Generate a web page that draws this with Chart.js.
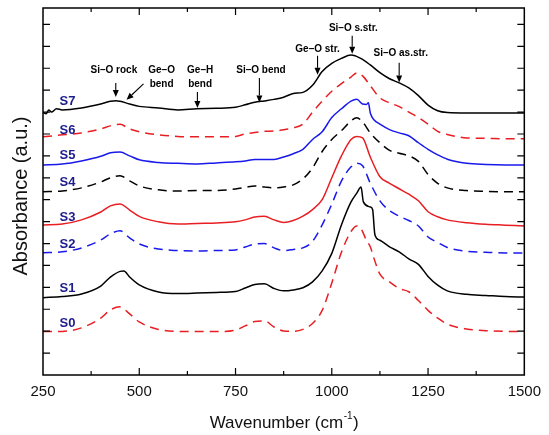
<!DOCTYPE html>
<html>
<head>
<meta charset="utf-8">
<script src="https://cdn.jsdelivr.net/npm/chart.js@4.4.1/dist/chart.umd.min.js"></script>
<style>
  html, body { margin: 0; padding: 0; background: #fff; }
  #wrap { width: 549px; height: 435px; position: relative; }
</style>
</head>
<body>
<div id="wrap"><canvas id="ftir"></canvas></div>
<script>
// Spectra, absorbance in arbitrary units (offset stacked)
const seriesNames = ['S0', 'S1', 'S2', 'S3', 'S4', 'S5', 'S6', 'S7'];

const wnGrid = [250, 300, 350, 400, 425, 450, 475, 500, 550, 600, 650, 700, 750, 775, 800, 825, 850, 875, 900, 925,
                950, 975, 1000, 1025, 1050, 1065, 1080, 1100, 1125, 1150, 1175, 1200, 1225, 1250, 1275, 1300, 1350, 1400, 1450, 1500];

const wnS0 = [250, 300, 350, 400, 425, 450, 475, 500, 550, 600, 650, 700, 750, 775, 800, 825, 850, 875, 900, 925,
              950, 975, 1000, 1025, 1050, 1065, 1075, 1090, 1100, 1110, 1125, 1150, 1175, 1200, 1225, 1250, 1275, 1300, 1350, 1400, 1450, 1500];
const absS0 = [1.98, 1.99, 2.15, 2.60, 2.97, 3.11, 2.79, 2.42, 2.08, 1.99, 1.98, 1.98, 2.05, 2.24, 2.44, 2.47, 2.19, 2.01, 1.99, 2.08,
               2.35, 2.95, 4.20, 5.60, 6.55, 6.80, 6.70, 6.15, 5.85, 5.30, 4.60, 4.25, 3.95, 3.80, 3.40, 2.95, 2.60, 2.32, 2.10, 2.02, 1.99, 1.98];

const wnS1 = [250, 300, 350, 400, 425, 450, 460, 475, 500, 550, 600, 650, 700, 750, 775, 800, 825, 850, 875, 900, 925,
              950, 975, 1000, 1025, 1050, 1065, 1076, 1082, 1100, 1106, 1112, 1125, 1150, 1175, 1200, 1225, 1250, 1275, 1300, 1350, 1400, 1450, 1500];
const absS1 = [3.53, 3.58, 3.70, 4.06, 4.47, 4.73, 4.75, 4.47, 4.11, 3.79, 3.72, 3.74, 3.77, 3.81, 3.97, 4.13, 4.16, 3.95, 3.84, 3.88, 3.98,
               4.25, 4.75, 5.55, 6.85, 7.90, 8.30, 8.58, 7.90, 7.67, 7.55, 6.40, 6.15, 5.85, 5.62, 5.30, 5.05, 4.50, 4.10, 3.84, 3.68, 3.63, 3.58, 3.56];

const absS2 = [5.58, 5.62, 5.80, 6.16, 6.44, 6.58, 6.26, 5.98, 5.75, 5.68, 5.66, 5.68, 5.71, 5.84, 5.98, 6.00, 5.80, 5.68, 5.73, 5.80,
               6.10, 6.85, 7.80, 8.85, 9.50, 9.66, 9.55, 8.75, 7.95, 7.50, 7.25, 7.05, 6.80, 6.30, 6.05, 5.82, 5.65, 5.60, 5.57, 5.57];

const absS3 = [6.85, 6.89, 7.08, 7.44, 7.72, 7.81, 7.53, 7.24, 6.99, 6.89, 6.92, 6.94, 6.99, 7.08, 7.21, 7.24, 7.08, 6.96, 7.05, 7.25,
               7.55, 8.00, 9.00, 10.00, 10.75, 10.89, 10.82, 9.95, 9.05, 8.75, 8.50, 8.25, 7.95, 7.45, 7.22, 7.08, 6.95, 6.88, 6.84, 6.80];

const absS4 = [8.36, 8.40, 8.54, 8.81, 9.00, 9.09, 8.86, 8.63, 8.45, 8.40, 8.42, 8.42, 8.49, 8.56, 8.63, 8.58, 8.54, 8.58, 8.68, 8.95,
               9.45, 10.20, 10.75, 11.15, 11.60, 11.74, 11.55, 11.05, 10.60, 10.25, 10.12, 10.00, 9.75, 9.15, 8.75, 8.54, 8.42, 8.38, 8.36, 8.36];

const wnS5 = [250, 300, 350, 400, 425, 450, 475, 500, 550, 600, 650, 700, 750, 775, 800, 825, 850, 875, 900, 925,
              950, 975, 1000, 1025, 1050, 1065, 1080, 1090, 1095, 1100, 1110, 1125, 1150, 1175, 1200, 1225, 1250, 1275, 1300, 1350, 1400, 1450, 1500];
const absS5 = [9.59, 9.63, 9.77, 9.98, 10.14, 10.18, 10.00, 9.82, 9.70, 9.66, 9.63, 9.68, 9.73, 9.77, 9.84, 9.84, 9.84, 9.95, 10.10, 10.30,
               10.75, 11.10, 11.75, 12.15, 12.50, 12.58, 12.37, 12.35, 12.42, 11.96, 11.64, 11.45, 11.20, 11.05, 10.92, 10.60, 10.30, 10.05, 9.85, 9.66, 9.61, 9.59, 9.59];

const absS6 = [10.87, 10.96, 11.05, 11.23, 11.37, 11.44, 11.23, 11.10, 10.96, 10.89, 10.87, 10.87, 10.89, 11.00, 11.07, 11.12, 11.14, 11.19, 11.28, 11.45,
               12.00, 12.50, 12.95, 13.30, 13.60, 13.79, 13.65, 13.20, 12.65, 12.42, 12.25, 12.00, 11.75, 11.45, 11.12, 10.98, 10.82, 10.80, 10.78, 10.78];

const wnS7 = [250, 258, 265, 272, 285, 300, 350, 400, 425, 440, 450, 475, 500, 550, 600, 650, 700, 750, 775, 800, 825, 850,
              875, 900, 925, 950, 975, 1000, 1025, 1050, 1075, 1100, 1125, 1150, 1175, 1200, 1225, 1250, 1275, 1300, 1350, 1400, 1450, 1500];
const absS7 = [11.99, 11.92, 12.10, 12.00, 12.15, 12.10, 12.19, 12.37, 12.49, 12.52, 12.49, 12.37, 12.26, 12.19, 12.10, 12.15, 12.17, 12.22, 12.33, 12.45, 12.51, 12.58,
               12.68, 12.85, 12.90, 13.22, 13.85, 14.22, 14.45, 14.60, 14.45, 14.15, 13.80, 13.52, 13.33, 13.10, 12.75, 12.32, 12.06, 11.98, 11.96, 11.96, 11.96, 11.96];

// x tick labels
const xTickLabels = [250, 500, 750, 1000, 1250, 1500];

// band assignments: label lines, arrow start/end in (wavenumber, absorbance)
const bandLabels = [
    { text: ['Si\u2013O rock'], at: [434, 13.93], from: [439, 13.33], to: [439, 12.69] },
    { text: ['Ge\u2013O', 'bend'], at: [558, 13.93], from: [511, 13.29], to: [467, 12.56] },
    { text: ['Ge\u2013H', 'bend'], at: [658, 13.93], from: [651, 12.92], to: [651, 12.19] },
    { text: ['Si\u2013O bend'], at: [816, 13.93], from: [812, 13.56], to: [812, 12.44] },
    { text: ['Ge\u2013O str.'], at: [963, 14.89], from: [963, 14.57], to: [963, 13.70] },
    { text: ['Si\u2013O s.str.'], at: [1056, 15.84], from: [1053, 15.48], to: [1053, 14.66] },
    { text: ['Si\u2013O as.str.'], at: [1179, 14.70], from: [1175, 14.25], to: [1175, 13.35] }
];

// where the S0..S7 tags sit
const tagX = 293;
const tagY = [2.37, 3.93, 5.94, 7.21, 8.77, 10.0, 11.14, 12.47];

const RED = 'rgb(232,30,35)';
const BLUE = 'rgb(25,25,235)';
const BLACK = '#000';
const NAVY = '#1c1c8c';
const FONT = "'Liberation Sans', Arial, Helvetica, sans-serif";

const seriesX = [wnS0, wnS1, wnGrid, wnGrid, wnGrid, wnS5, wnGrid, wnS7];
const seriesY = [absS0, absS1, absS2, absS3, absS4, absS5, absS6, absS7];
const seriesColor = [RED, BLACK, BLUE, RED, BLACK, BLUE, RED, BLACK];
const seriesDashed = [true, false, true, false, true, false, true, false];

const datasets = seriesNames.map((name, i) => ({
    label: name,
    data: seriesX[i].map((x, j) => ({ x: x, y: seriesY[i][j] })),
    borderColor: seriesColor[i],
    borderWidth: 1.5,
    borderDash: seriesDashed[i] ? [9, 6] : [],
    pointRadius: 0,
    fill: false,
    cubicInterpolationMode: 'monotone'
}));

// frame, inward ticks, tags, band labels, axis titles
const decorations = {
    id: 'decorations',
    afterDraw(chart) {
        const ctx = chart.ctx;
        const area = chart.chartArea;
        const xs = chart.scales.x;
        const ys = chart.scales.y;
        ctx.save();

        ctx.strokeStyle = '#000';
        ctx.lineWidth = 1.5;
        ctx.strokeRect(area.left, area.top, area.right - area.left, area.bottom - area.top);

        ctx.lineWidth = 1.2;
        ctx.beginPath();
        xs.ticks.forEach(t => {
            if (t.value <= xs.min || t.value >= xs.max) return;
            const px = xs.getPixelForValue(t.value);
            const len = xTickLabels.includes(t.value) ? 7 : 4;
            ctx.moveTo(px, area.bottom); ctx.lineTo(px, area.bottom - len);
            ctx.moveTo(px, area.top); ctx.lineTo(px, area.top + len);
        });
        ys.ticks.forEach(t => {
            if (t.value <= ys.min || t.value >= ys.max || !Number.isInteger(t.value)) return;
            const py = ys.getPixelForValue(t.value);
            ctx.moveTo(area.left, py); ctx.lineTo(area.left + 7, py);
            ctx.moveTo(area.right, py); ctx.lineTo(area.right - 7, py);
        });
        ctx.stroke();

        // series tags
        ctx.fillStyle = NAVY;
        ctx.font = 'bold 13px ' + FONT;
        ctx.textAlign = 'left';
        ctx.textBaseline = 'middle';
        seriesNames.forEach((n, i) => {
            ctx.fillText(n, xs.getPixelForValue(tagX), ys.getPixelForValue(tagY[i]));
        });

        // band labels with arrows
        ctx.fillStyle = '#000';
        ctx.strokeStyle = '#000';
        ctx.font = 'bold 10px ' + FONT;
        ctx.textAlign = 'center';
        bandLabels.forEach(b => {
            const tx = xs.getPixelForValue(b.at[0]);
            const ty = ys.getPixelForValue(b.at[1]);
            b.text.forEach((line, k) => ctx.fillText(line, tx, ty + k * 14));
            const x1 = xs.getPixelForValue(b.from[0]), y1 = ys.getPixelForValue(b.from[1]);
            const x2 = xs.getPixelForValue(b.to[0]), y2 = ys.getPixelForValue(b.to[1]);
            const ang = Math.atan2(y2 - y1, x2 - x1);
            const hl = 7, hw = 3;
            ctx.lineWidth = 1.1;
            ctx.beginPath();
            ctx.moveTo(x1, y1);
            ctx.lineTo(x2 - hl * Math.cos(ang), y2 - hl * Math.sin(ang));
            ctx.stroke();
            ctx.beginPath();
            ctx.moveTo(x2, y2);
            ctx.lineTo(x2 - hl * Math.cos(ang) + hw * Math.sin(ang), y2 - hl * Math.sin(ang) - hw * Math.cos(ang));
            ctx.lineTo(x2 - hl * Math.cos(ang) - hw * Math.sin(ang), y2 - hl * Math.sin(ang) + hw * Math.cos(ang));
            ctx.closePath();
            ctx.fill();
        });

        // axis titles
        ctx.fillStyle = '#111';
        ctx.textBaseline = 'middle';
        const main = 'Wavenumber (cm';
        const sup = '-1';
        const close = ')';
        ctx.font = '17px ' + FONT;
        const wMain = ctx.measureText(main).width;
        const wClose = ctx.measureText(close).width;
        ctx.font = '10px ' + FONT;
        const wSup = ctx.measureText(sup).width;
        let x0 = (area.left + area.right) / 2 - (wMain + wSup + wClose) / 2;
        const yT = 423;
        ctx.textAlign = 'left';
        ctx.font = '17px ' + FONT;
        ctx.fillText(main, x0, yT);
        ctx.font = '10px ' + FONT;
        ctx.fillText(sup, x0 + wMain + 0.5, yT - 7);
        ctx.font = '17px ' + FONT;
        ctx.fillText(close, x0 + wMain + wSup + 1, yT);

        ctx.translate(21, 196);
        ctx.rotate(-Math.PI / 2);
        ctx.textAlign = 'center';
        ctx.font = '20px ' + FONT;
        ctx.fillText('Absorbance (a.u.)', 0, 0);
        ctx.restore();
    }
};

new Chart(document.getElementById('ftir'), {
    type: 'line',
    data: { datasets: datasets },
    options: {
        responsive: true,
        maintainAspectRatio: false,
        animation: false,
        events: [],
        layout: { padding: { top: 8, right: 17, left: 0, bottom: 0 } },
        plugins: {
            legend: { display: false },
            tooltip: { enabled: false }
        },
        scales: {
            x: {
                type: 'linear',
                min: 250,
                max: 1500,
                grid: { display: false, drawTicks: false },
                border: { display: false },
                ticks: {
                    stepSize: 125,
                    autoSkip: false,
                    maxRotation: 0,
                    padding: 8,
                    color: '#111',
                    font: { family: FONT, size: 15 },
                    callback: v => xTickLabels.includes(v) ? String(v) : ''
                },
                afterFit: s => { s.height = 60; }
            },
            y: {
                type: 'linear',
                min: 0,
                max: 16.75,
                grid: { display: false, drawTicks: false },
                border: { display: false },
                ticks: { display: false, stepSize: 1 },
                afterFit: s => { s.width = 43; }
            }
        }
    },
    plugins: [decorations]
});
</script>
</body>
</html>
